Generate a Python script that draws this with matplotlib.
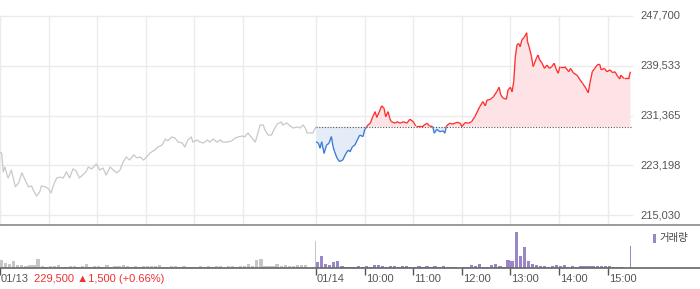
import numpy as np
import matplotlib
matplotlib.use("Agg")
import matplotlib.pyplot as plt
from matplotlib.collections import LineCollection
from matplotlib.lines import Line2D
from matplotlib.patches import Rectangle
import matplotlib.transforms as mtrans

plt.rcParams['font.family'] = ['Liberation Sans', 'DejaVu Sans']

# ---------------- data ----------------
prev_close = 229500
y_ticks = [215030, 223198, 231365, 239533, 247700]

day1_times = ["09:00","09:02","09:04","09:06","09:08","09:10","09:14","09:19","09:23","09:27",
              "09:31","09:35","09:39","09:41","09:45","09:49","09:51","09:56","10:00","10:03",
              "10:06","10:10","10:14","10:18","10:22","10:26","10:30","10:34","10:38","10:42",
              "10:46","10:49","10:53","10:59","11:03","11:07","11:11","11:16","11:20","11:24",
              "11:28","11:32","11:36","11:40","11:45","11:49","11:53","11:57","12:01","12:05",
              "12:11","12:15","12:20","12:24","12:27","12:32","12:36","12:40","12:45","12:48",
              "12:52","12:56","12:58","13:03","13:07","13:11","13:16","13:19","13:23","13:28",
              "13:32","13:35","13:40","13:46","13:50","13:54","13:59","14:02","14:06","14:11",
              "14:15","14:17","14:21","14:25","14:27","14:31","14:35","14:38","14:42","14:47",
              "14:49","14:54","14:58","15:02","15:07","15:10","15:14","15:17","15:19","15:26",
              "15:30"]
day1_prices = [225350,225200,222100,222900,221950,221100,222400,219650,220300,221950,
               220800,219650,219800,219150,218150,218800,219800,219650,219300,218650,
               219950,221100,221250,221100,222100,221100,222600,222250,221100,221600,
               222100,222900,222600,223400,222400,222750,221600,222900,222400,221950,
               222400,223750,224550,224050,224900,224400,224550,224050,224550,225200,
               225700,226200,226500,227500,227200,227850,227650,227000,226850,226200,
               227350,227850,227000,227350,227000,226850,227350,227000,227500,227000,
               227350,227000,227000,227200,227650,227850,228000,227850,228500,227650,
               227000,227850,229800,229800,229000,228150,228150,229000,229950,230300,
               229800,230150,229650,229300,229500,229300,229800,229300,228500,228500,
               229500]

day2_times = ["09:00","09:03","09:05","09:07","09:10","09:13","09:16","09:19","09:21","09:23",
              "09:26","09:29","09:33","09:37","09:40","09:42","09:45","09:48","09:51","09:54",
              "09:58","10:00","10:04","10:07","10:10","10:13","10:15","10:19","10:21","10:24",
              "10:26","10:29","10:31","10:33","10:38","10:40","10:44","10:48","10:52","10:56",
              "11:00","11:03","11:12","11:17","11:20","11:24","11:26","11:29","11:33","11:37",
              "11:39","11:41","11:45","11:49","11:54","11:58","12:00","12:04","12:08","12:12",
              "12:16","12:20","12:22","12:26","12:29","12:31","12:35","12:39","12:43","12:46",
              "12:48","12:51","12:55","12:57","13:00","13:02","13:04","13:06","13:08","13:10",
              "13:12","13:14","13:17","13:20","13:21","13:23","13:26","13:28","13:32","13:34",
              "13:36","13:39","13:42","13:45","13:48","13:51","13:54","13:56","13:59","14:01",
              "14:07","14:12","14:14","14:18","14:22","14:26","14:29","14:33","14:36","14:38",
              "14:41","14:44","14:47","14:50","14:52","14:56","14:59","15:03","15:06","15:09",
              "15:12","15:15","15:16","15:20","15:26","15:28"]
day2_prices = [227050,226800,226000,227050,225150,226500,226800,227900,226250,225400,
               224350,223800,224050,225150,225700,225400,226250,226500,227350,228150,
               227900,229000,229800,230100,231150,232000,231050,232250,232950,232550,
               231150,232000,230900,230350,230100,230350,230100,230350,230100,230750,
               230350,229650,229650,230100,229650,229550,228450,229100,228700,228850,
               228450,229650,230100,229950,230250,230100,229550,230200,230100,230350,
               231150,232250,232800,233650,232950,233900,234000,234450,235250,236000,
               234750,234200,234050,235550,236000,235250,236900,241000,242950,243200,
               242650,243750,244200,244950,243500,242650,241000,239400,240750,241300,
               240500,239950,239100,239650,239100,239400,239950,239100,238300,239400,
               239400,238550,239100,238300,238000,237200,236650,235850,235100,236650,
               238550,239100,239650,239800,238850,239100,238550,238850,238400,238550,
               237850,237350,238000,237450,237450,238550]

# 5-minute volume bins (09:00-15:30), arbitrary units
day1_vol = [8,5,4,7,3,3,2,3,3,9, 2,1,2,2,3,1,1,2,2,1, 2,4,1,2,2,1,3,1,2,2, 3,2,1,2,1,2,2,2,
            2,3,1,1,2,2,1,2,1,1, 1,2,1,2,1,2,2,1,2,2, 1,2,2,4,2,8,9,2,2,2, 4,2,3,2,2,3,3,3,0,0]
day2_vol = [6,12,4,3,6,7,2,1,1, 1,2,1,2,1,3,3,2,1,2, 2,1,2,2,1,1,2,1,2,1,
            2,1,2,1,1,1,0.5,1,1,3, 2,4,1,1,3,4,2,1,8,7, 36,12,21,7,4,3,2,2,1,2,
            3,2,3,1,2,1,2,2,2,2, 2,2,2,2,1,1,1,0,0]
auction_times = ["15:29", "15:28"]   # closing auction of each day
auction_vol = [27, 22]

x_labels = ["01/13", "01/14", "10:00", "11:00", "12:00", "13:00", "14:00", "15:00"]
info_text = "229,500 \u25b21,500 (+0.66%)"
legend_text = "거래량"

# ---------------- helpers ----------------
def to_min(t):
    h, m = t.split(":")
    return (int(h) - 9) * 60 + int(m)

DAY = 390
t1 = np.array([to_min(t) for t in day1_times], float)
p1 = np.array(day1_prices, float)
t2 = np.array([to_min(t) for t in day2_times], float) + DAY
p2 = np.array(day2_prices, float)

W, H = 700, 289
fig = plt.figure(figsize=(W / 100, H / 100), dpi=100)
fig.patch.set_facecolor("white")

xr = 632 / W
ax = fig.add_axes([0, (H - 225) / H, xr, (225 - 16) / H])
axv = fig.add_axes([0, (H - 268) / H, xr, (268 - 225) / H])

span = y_ticks[-1] - y_ticks[0]
ax.set_ylim(y_ticks[0] - span * 10 / 199, y_ticks[-1])
ax.set_xlim(0, 2 * DAY)
axv.set_xlim(0, 2 * DAY)
axv.set_ylim(0, 43)
for a in (ax, axv):
    a.set_facecolor("none")
    for s in a.spines.values():
        s.set_visible(False)
    a.set_yticks([])
ax.set_xticks([])

grid_c = "#ebebeb"
for yv in y_ticks:
    ax.axhline(yv, color=grid_c, lw=1, zorder=0, clip_on=False)
for xv in [0, 60, 120, 180, 240, 300, 390, 450, 510, 570, 630, 690, 750]:
    ax.axvline(xv, color=grid_c, lw=1, zorder=0, clip_on=False)

# y labels
ty = mtrans.blended_transform_factory(ax.transAxes, ax.transData)
for yv in y_ticks:
    ax.text(640 / 632, yv, f"{yv:,}", transform=ty, ha="left", va="center",
            fontsize=8, color="#555555", clip_on=False)

# day 1 line
ax.plot(t1, p1, color="#c8c8cc", lw=0.9, zorder=3)

# day 2 fill + colored line
base = prev_close
ax.plot([DAY, 2 * DAY], [base, base], color="#555555", lw=0.8,
        linestyle=(0, (1, 1.5)), zorder=2)
ax.fill_between(t2, p2, base, where=p2 >= base, interpolate=True,
                color="#fde3e5", lw=0, zorder=1)
ax.fill_between(t2, p2, base, where=p2 <= base, interpolate=True,
                color="#e4ecf8", lw=0, zorder=1)

xs, ys = [t2[0]], [p2[0]]
for i in range(1, len(t2)):
    a0, a1 = p2[i - 1] - base, p2[i] - base
    if a0 * a1 < 0:
        f = a0 / (a0 - a1)
        xs.append(t2[i - 1] + f * (t2[i] - t2[i - 1]))
        ys.append(base)
    xs.append(t2[i]); ys.append(p2[i])
xs, ys = np.array(xs), np.array(ys)
segs, cols = [], []
for i in range(1, len(xs)):
    segs.append([(xs[i - 1], ys[i - 1]), (xs[i], ys[i])])
    mid = (ys[i - 1] + ys[i]) / 2
    cols.append("#ff2e2e" if mid >= base else "#3a78d6")
ax.add_collection(LineCollection(segs, colors=cols, linewidths=0.95, zorder=3))

# volume
bins1 = np.arange(len(day1_vol)) * 5
bins2 = np.arange(len(day2_vol)) * 5 + DAY
axv.bar(bins1, day1_vol, width=4, align="edge", color="#c6c6ca", lw=0)
axv.bar(bins2, day2_vol, width=4, align="edge", color="#9a86c6", lw=0)
axv.bar([to_min(auction_times[0])], [auction_vol[0]], width=1.3, align="edge",
        color="#c6c6ca", lw=0)
axv.bar([to_min(auction_times[1]) + DAY], [auction_vol[1]], width=1.3, align="edge",
        color="#9a86c6", lw=0)

# x ticks
tick_pos = [0, DAY] + [DAY + 60 * k for k in range(1, 7)]
axv.set_xticks(tick_pos)
axv.set_xticklabels([])
axv.tick_params(axis="x", length=5, width=1, color="#555555", direction="out")
tx = mtrans.blended_transform_factory(axv.transData, fig.transFigure)
tx_off = mtrans.offset_copy(tx, fig=fig, x=1, units="dots")
for xp, lab in zip(tick_pos, x_labels):
    fig.text(xp, 1 - 279 / H, lab, transform=tx_off,
             ha="left", va="center", fontsize=8, color="#555555")

fig.text(34 / W, 1 - 279 / H, info_text, ha="left", va="center", fontsize=8,
         color="#f03232")

# panel borders
for yp, c in [(225, "#8a8a8a"), (268, "#666666")]:
    fig.add_artist(Line2D([0, 1], [1 - yp / H, 1 - yp / H], transform=fig.transFigure,
                          color=c, lw=1.2))

# legend
fig.add_artist(Rectangle((653 / W, 1 - 243 / H), 3 / W, 9 / H, transform=fig.transFigure,
                         color="#9a86c6", lw=0))
fig.text(659 / W, 1 - 238.5 / H, legend_text, ha="left", va="center", fontsize=7.5,
         color="#444444", family=["Noto Sans CJK KR", "DejaVu Sans"])

fig.savefig("out.png", dpi=100, facecolor="white")
